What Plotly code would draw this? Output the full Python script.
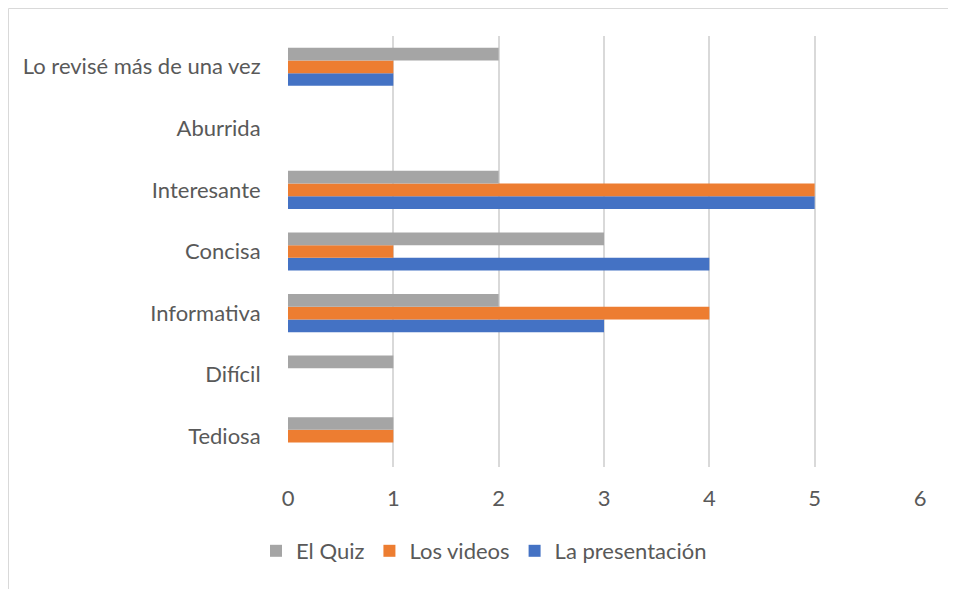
import plotly.graph_objects as go

categories = ["Tediosa", "Difícil", "Informativa", "Concisa", "Interesante", "Aburrida", "Lo revisé más de una vez"]
quiz = [1, 1, 2, 3, 2, 0, 2]
videos = [1, 0, 4, 1, 5, 0, 1]
presentacion = [0, 0, 3, 4, 5, 0, 1]
x_ticks = [0, 1, 2, 3, 4, 5, 6]

# page body has an 8px margin; compensate so the plot lands where the reference has it
OFF = 8
W, H = 956 - OFF, 589 - OFF
ml, mt = 288 - OFF, 36 - OFF
mr = W - (920 - OFF)
mb = H - (467 - OFF)
pw, ph = W - ml - mr, H - mt - mb

fig = go.Figure()
fig.add_trace(go.Bar(y=categories, x=presentacion, name="La presentación", orientation="h",
                     marker=dict(color="#4472C4", line=dict(width=0))))
fig.add_trace(go.Bar(y=categories, x=videos, name="Los videos", orientation="h",
                     marker=dict(color="#ED7D31", line=dict(width=0))))
fig.add_trace(go.Bar(y=categories, x=quiz, name="El Quiz", orientation="h",
                     marker=dict(color="#A5A5A5", line=dict(width=0))))

font = dict(family="Lato, Open Sans, sans-serif", size=22, color="#595959")

fig.update_layout(
    width=W, height=H,
    margin=dict(l=ml, r=mr, t=mt, b=mb, pad=0),
    paper_bgcolor="white", plot_bgcolor="white",
    barmode="group", bargap=0.38, bargroupgap=0,
    font=font,
    showlegend=True,
    legend=dict(orientation="h", traceorder="reversed", x=(484 - 288) / pw, xanchor="center",
                y=-(551 - 467) / ph, yanchor="middle", font=font,
                itemwidth=30, tracegroupgap=0),
    xaxis=dict(range=[0, 6], tickvals=x_ticks, showgrid=True, gridcolor="#D9D9D9", gridwidth=1.5,
               zeroline=False, showline=False, ticks="outside", ticklen=12, tickcolor="rgba(0,0,0,0)",
               tickfont=font),
    yaxis=dict(showgrid=False, zeroline=False, showline=False, ticks="outside", ticklen=22,
               tickcolor="rgba(0,0,0,0)", tickfont=font),
)

fig.add_shape(type="rect", xref="paper", yref="paper",
              x0=(8.5 - 288) / pw, x1=(954.5 - 288) / pw,
              y0=-(H + 20 - 467) / ph, y1=(467 - 8.5) / ph,
              line=dict(color="#D9D9D9", width=1), fillcolor="rgba(0,0,0,0)", layer="below")

fig.write_html("out.html")
